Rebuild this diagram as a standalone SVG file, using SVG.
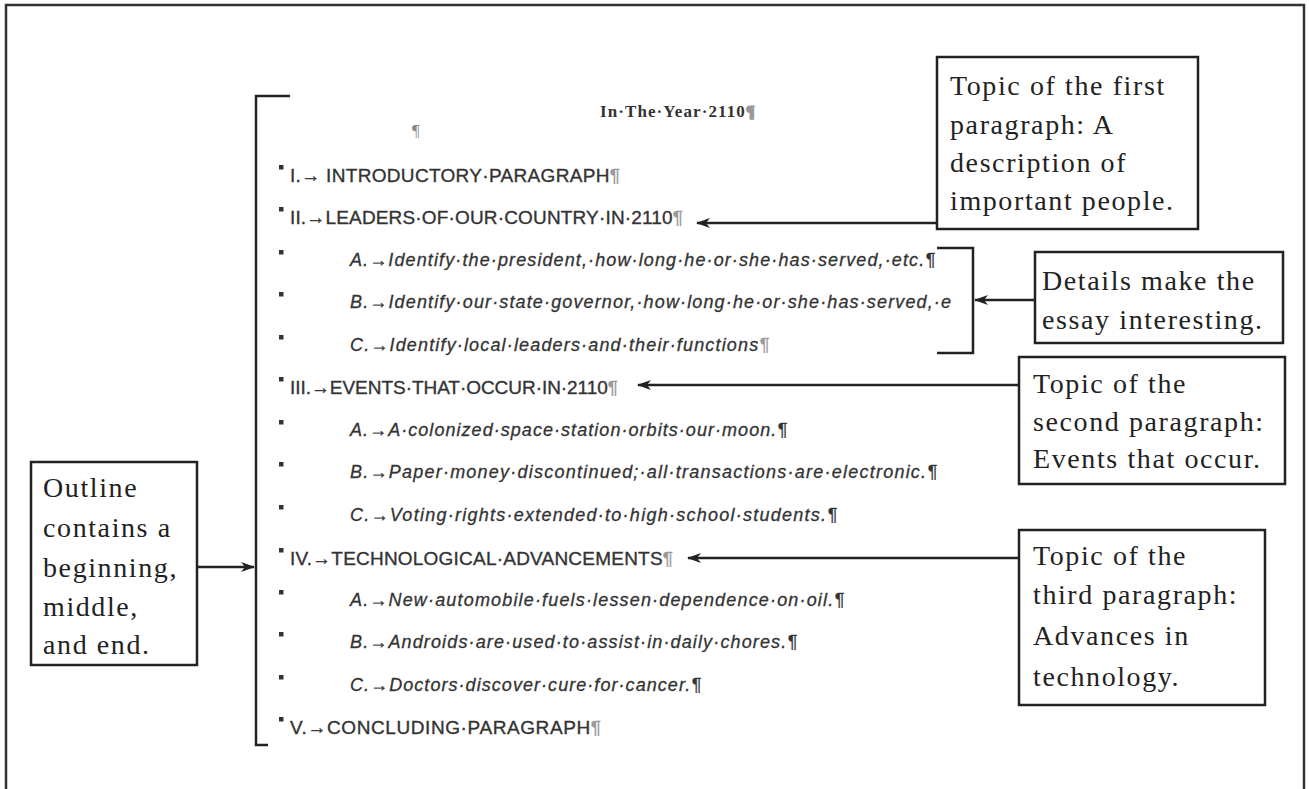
<svg xmlns="http://www.w3.org/2000/svg" width="1309" height="789" viewBox="0 0 1309 789">
<style>
.frame{fill:none;stroke:#333;stroke-width:2.5}
.box{fill:#fff;stroke:#222;stroke-width:2.5}
.br{fill:none;stroke:#222;stroke-width:2.5}
.lbl{font-family:"Liberation Serif","Times New Roman",serif;font-size:28px;letter-spacing:1.6px;fill:#222}
.h{font-family:"Liberation Sans",Arial,sans-serif;font-size:19px;fill:#333;stroke:#333;stroke-width:0.35}
.s{font-family:"Liberation Sans",Arial,sans-serif;font-size:18px;font-style:italic;fill:#333;stroke:#333;stroke-width:0.3}
.pm{fill:#999;stroke:#999}
.bul{fill:#333}
.conn line{stroke:#222;stroke-width:2.5}
</style>
<defs>
<marker id="ah" viewBox="0 0 14 10" refX="13" refY="5" markerWidth="14" markerHeight="10" markerUnits="userSpaceOnUse" orient="auto">
<path d="M0,0 L14,5 L0,10 L4,5 z" fill="#222"/>
</marker>
</defs>
<rect width="1309" height="789" fill="#fff"/>
<path class="frame" d="M6,792 V5 H1304 V792"/>

<g id="outline">
<path class="br" d="M290,96 H256 V745 H268"/>
<text x="600" y="117" font-family="Liberation Serif,serif" font-size="17" font-weight="bold" fill="#333" textLength="155" lengthAdjust="spacing">In·The·Year·2110<tspan class="pm">¶</tspan></text>
<text x="412" y="136" font-family="Liberation Serif,serif" font-size="17" fill="#888">¶</text>
<g class="bul">
<rect x="279" y="165" width="4.5" height="4.5"/>
<rect x="279" y="207" width="4.5" height="4.5"/>
<rect x="279" y="250" width="4.5" height="4.5"/>
<rect x="279" y="292" width="4.5" height="4.5"/>
<rect x="279" y="335" width="4.5" height="4.5"/>
<rect x="279" y="377" width="4.5" height="4.5"/>
<rect x="279" y="420" width="4.5" height="4.5"/>
<rect x="279" y="462" width="4.5" height="4.5"/>
<rect x="279" y="505" width="4.5" height="4.5"/>
<rect x="279" y="548" width="4.5" height="4.5"/>
<rect x="279" y="590" width="4.5" height="4.5"/>
<rect x="279" y="632" width="4.5" height="4.5"/>
<rect x="279" y="675" width="4.5" height="4.5"/>
<rect x="279" y="717" width="4.5" height="4.5"/>
</g>
<text class="h" x="290" y="182" textLength="330" lengthAdjust="spacing">I.→ INTRODUCTORY·PARAGRAPH<tspan class="pm">¶</tspan></text>
<text class="h" x="290" y="224" textLength="393" lengthAdjust="spacing">II.→LEADERS·OF·OUR·COUNTRY·IN·2110<tspan class="pm">¶</tspan></text>
<text class="s" x="350" y="266" textLength="585" lengthAdjust="spacing">A.→Identify·the·president,·how·long·he·or·she·has·served,·etc.¶</text>
<text class="s" x="350" y="308" textLength="601" lengthAdjust="spacing">B.→Identify·our·state·governor,·how·long·he·or·she·has·served,·e</text>
<text class="s" x="350" y="351" textLength="419" lengthAdjust="spacing">C.→Identify·local·leaders·and·their·functions<tspan class="pm">¶</tspan></text>
<text class="h" x="290" y="394" textLength="328" lengthAdjust="spacing">III.→EVENTS·THAT·OCCUR·IN·2110<tspan class="pm">¶</tspan></text>
<text class="s" x="350" y="436" textLength="437" lengthAdjust="spacing">A.→A·colonized·space·station·orbits·our·moon.¶</text>
<text class="s" x="350" y="478" textLength="587" lengthAdjust="spacing">B.→Paper·money·discontinued;·all·transactions·are·electronic.¶</text>
<text class="s" x="350" y="521" textLength="487" lengthAdjust="spacing">C.→Voting·rights·extended·to·high·school·students.¶</text>
<text class="h" x="290" y="565" textLength="383" lengthAdjust="spacing">IV.→TECHNOLOGICAL·ADVANCEMENTS<tspan class="pm">¶</tspan></text>
<text class="s" x="350" y="606" textLength="494" lengthAdjust="spacing">A.→New·automobile·fuels·lessen·dependence·on·oil.¶</text>
<text class="s" x="350" y="648" textLength="447" lengthAdjust="spacing">B.→Androids·are·used·to·assist·in·daily·chores.¶</text>
<text class="s" x="350" y="691" textLength="351" lengthAdjust="spacing">C.→Doctors·discover·cure·for·cancer.¶</text>
<text class="h" x="290" y="734" textLength="311" lengthAdjust="spacing">V.→CONCLUDING·PARAGRAPH<tspan class="pm">¶</tspan></text>
<path class="br" d="M937,248 H973 V353 H937"/>
</g>

<g id="box-first">
<rect class="box" x="937" y="57" width="261" height="172"/>
<text class="lbl" x="950" y="95">Topic of the first</text>
<text class="lbl" x="950" y="134">paragraph: A</text>
<text class="lbl" x="950" y="172">description of</text>
<text class="lbl" x="950" y="210">important people.</text>
</g>

<g id="box-details">
<rect class="box" x="1035" y="252" width="248" height="91"/>
<text class="lbl" x="1042" y="290">Details make the</text>
<text class="lbl" x="1042" y="329">essay interesting.</text>
</g>

<g id="box-second">
<rect class="box" x="1019" y="357" width="266" height="127"/>
<text class="lbl" x="1033" y="393">Topic of the</text>
<text class="lbl" x="1033" y="431">second paragraph:</text>
<text class="lbl" x="1033" y="468">Events that occur.</text>
</g>

<g id="box-third">
<rect class="box" x="1019" y="530" width="246" height="175"/>
<text class="lbl" x="1033" y="565">Topic of the</text>
<text class="lbl" x="1033" y="604">third paragraph:</text>
<text class="lbl" x="1033" y="645">Advances in</text>
<text class="lbl" x="1033" y="686">technology.</text>
</g>

<g id="box-outline">
<rect class="box" x="31" y="462" width="166" height="203"/>
<text class="lbl" x="43" y="497">Outline</text>
<text class="lbl" x="43" y="537">contains a</text>
<text class="lbl" x="43" y="577">beginning,</text>
<text class="lbl" x="43" y="616">middle,</text>
<text class="lbl" x="43" y="654">and end.</text>
</g>

<g class="conn" id="connectors">
<line x1="937" y1="223" x2="697" y2="223" marker-end="url(#ah)"/>
<line x1="1035" y1="300" x2="975" y2="300" marker-end="url(#ah)"/>
<line x1="1019" y1="385" x2="638" y2="385" marker-end="url(#ah)"/>
<line x1="1019" y1="558" x2="688" y2="558" marker-end="url(#ah)"/>
<line x1="197" y1="567" x2="254" y2="567" marker-end="url(#ah)"/>
</g>
</svg>
